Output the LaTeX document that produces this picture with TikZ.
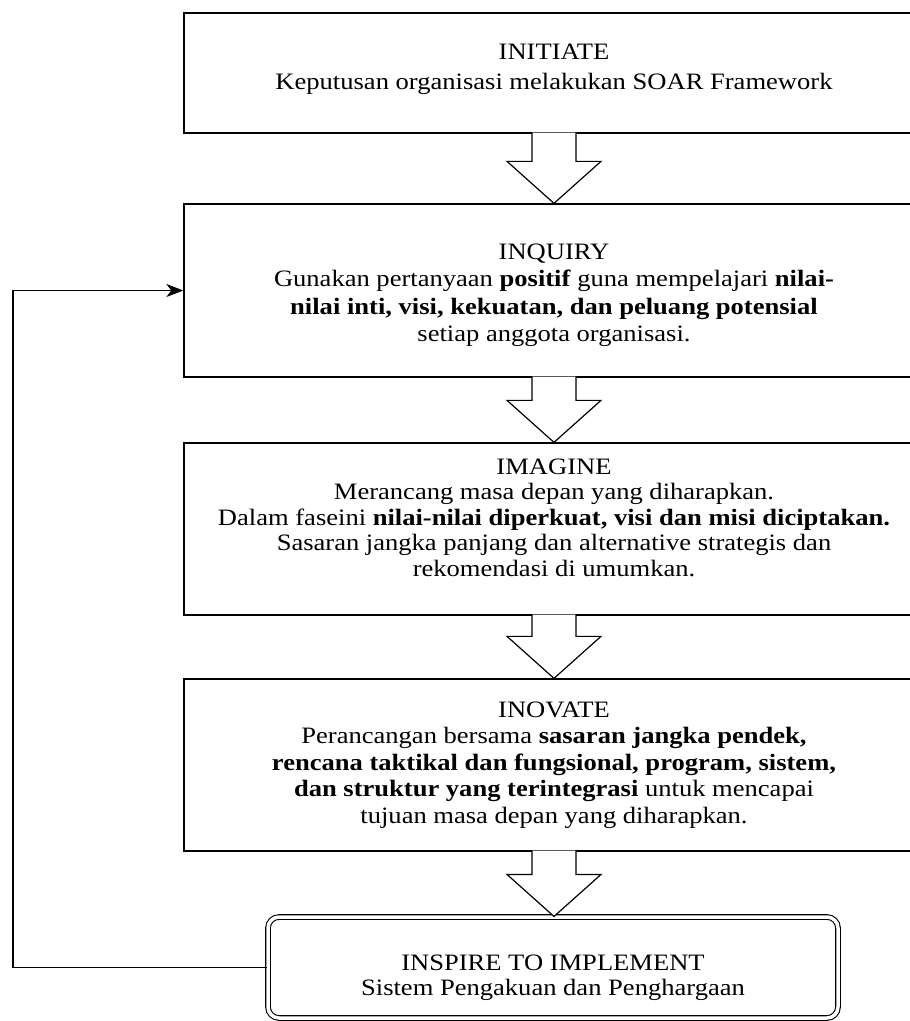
\documentclass[tikz,border=0pt]{standalone}
\usepackage{fontspec}
\setmainfont{Liberation Serif}[FakeStretch=1.13]
\usetikzlibrary{arrows.meta,calc}

\begin{document}
\begin{tikzpicture}[x=1pt,y=-1pt,
  stage node/.style={rectangle,draw,line width=1.3pt,fill=white,minimum width=740pt,
    align=center,font=\fontsize{23.5}{26.5}\selectfont},
  final node/.style={rectangle,draw,rounded corners=11pt,line width=1.1pt,double,
    double distance=3.5pt,fill=white,minimum width=570pt,minimum height=101pt,
    align=center,font=\fontsize{23.5}{25}\selectfont},
  block arrow/.style={draw,fill=white,line width=1.2pt,line join=miter},
  loop line/.style={-{Stealth[length=17pt,width=13pt,inset=5pt]},line width=1.3pt}]

  \useasboundingbox (0,0) rectangle (910,1021);
  \clip (0,0) rectangle (910,1021);

  \node[stage node,minimum height=120pt] (init) at (554,73)
    {INITIATE\\[3pt]Keputusan organisasi melakukan SOAR Framework\\[-14pt]};
  \node[stage node,minimum height=173pt,font=\fontsize{23.5}{27.5}\selectfont] (inq) at (554,290.5)
    {\mbox{}\\[-2pt]INQUIRY\\Gunakan pertanyaan \textbf{positif} guna mempelajari \textbf{nilai-}\\
     \textbf{nilai inti, visi, kekuatan, dan peluang potensial}\\setiap anggota organisasi.};
  \node[stage node,minimum height=172pt,font=\fontsize{23.5}{25.5}\selectfont] (img) at (554,529)
    {IMAGINE\\Merancang masa depan yang diharapkan.\\
     Dalam faseini \textbf{nilai-nilai diperkuat, visi dan misi diciptakan.}\\
     Sasaran jangka panjang dan alternative strategis dan\\rekomendasi di umumkan.\\[-2pt]};
  \node[stage node,minimum height=172pt] (inov) at (554,765)
    {INOVATE\\Perancangan bersama \textbf{sasaran jangka pendek,}\\
     \textbf{rencana taktikal dan fungsional, program, sistem,}\\
     \textbf{dan struktur yang terintegrasi} untuk mencapai\\tujuan masa depan yang diharapkan.};
  \node[final node] (insp) at (553,967.5)
    {\mbox{}\\[12pt]INSPIRE TO IMPLEMENT\\Sistem Pengakuan dan Penghargaan};

  % block arrows between the stages
  \foreach \a/\b in {init/inq,inq/img,img/inov,inov/insp}
    \draw[block arrow] let \p1=(\a.south), \p2=(\b.north) in
      (\x1-22pt,\y1+1pt) -- (\x1-22pt,\y2+42pt) -- (\x1-47pt,\y2+42pt) -- (\x1,\y2)
      -- (\x1+47pt,\y2+42pt) -- (\x1+22pt,\y2+42pt) -- (\x1+22pt,\y1+1pt);

  % feedback loop
  \coordinate (back) at (13,0);
  \draw[loop line] (insp.west) -- (insp.west -| back) |- (inq.west);

\end{tikzpicture}
\end{document}
